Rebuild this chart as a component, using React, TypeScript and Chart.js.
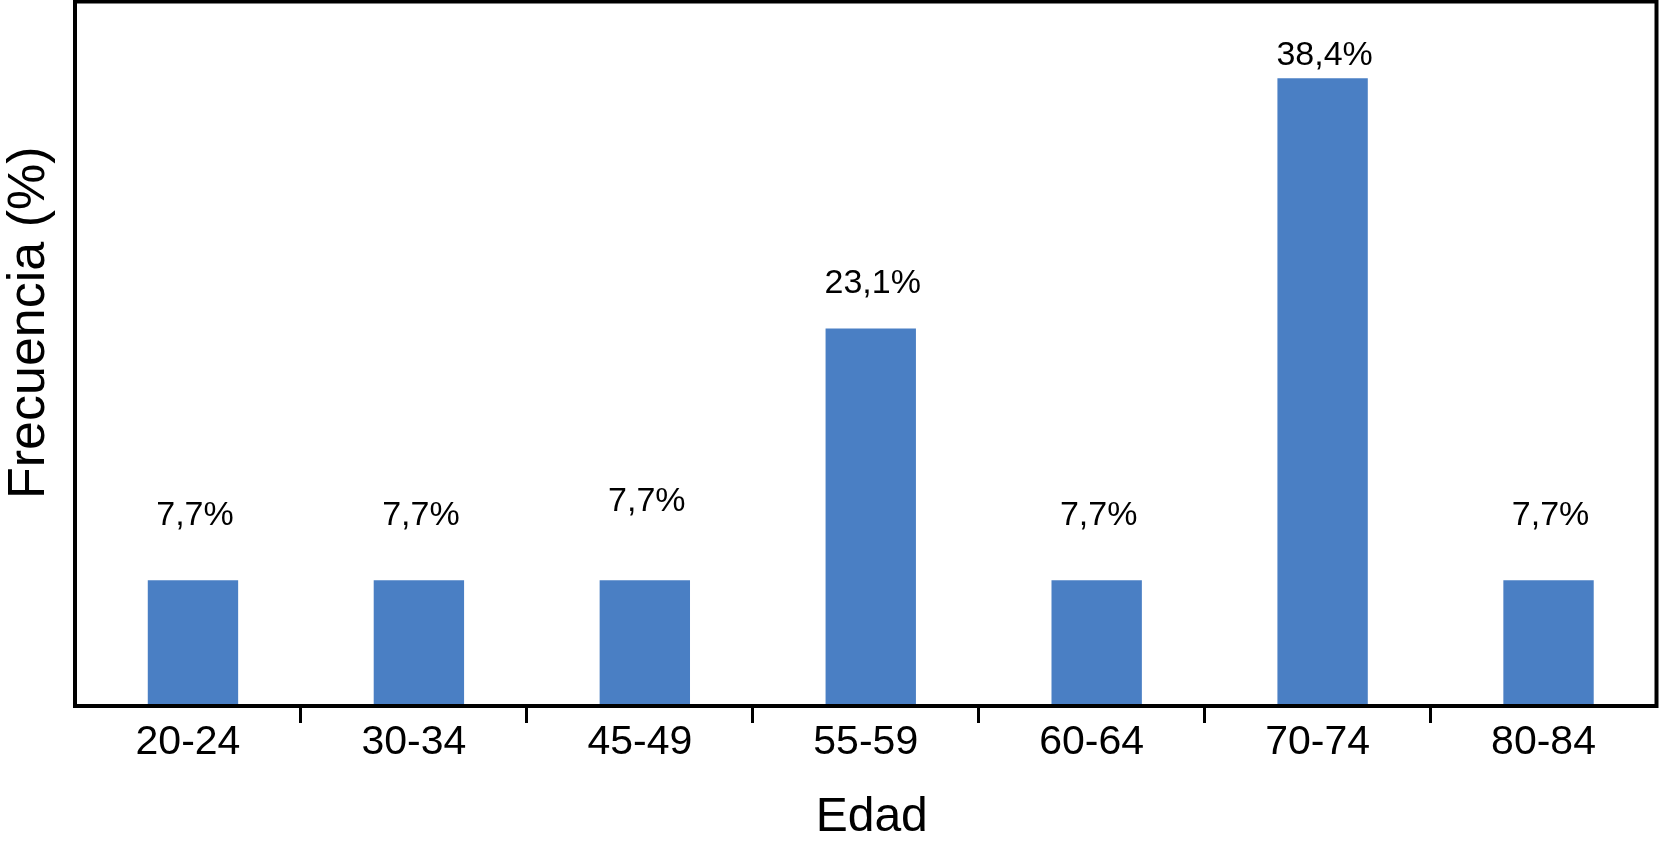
import React, { useEffect, useRef } from "react";
import { Chart, registerables } from "chart.js";

Chart.register(...registerables);

const categories = ["20-24", "30-34", "45-49", "55-59", "60-64", "70-74", "80-84"];
const frequencies = [7.7, 7.7, 7.7, 23.1, 7.7, 38.4, 7.7];
const xTitle = "Edad";
const yTitle = "Frecuencia (%)";

// vertical gap (px) between each bar top and its value label, as drawn in the original
const labelLift = [65, 65, 79, 45, 65, 23, 65];
// the original draws its bars a little right of the category centre
const BAR_SHIFT = 5;

const FONT = "'Liberation Sans', Arial, Helvetica, sans-serif";
const BAR_COLOR = "#4A7FC4";

const fmt = (v: number) => v.toFixed(1).replace(".", ",") + "%";

const framePlugin = {
  id: "frame",
  beforeDatasetsDraw(chart: any) {
    chart.ctx.save();
    chart.ctx.translate(BAR_SHIFT, 0);
  },
  afterDatasetsDraw(chart: any) {
    const { ctx, chartArea } = chart;
    ctx.restore();
    ctx.save();
    // value labels
    const meta = chart.getDatasetMeta(0);
    ctx.fillStyle = "#000";
    ctx.font = `34px ${FONT}`;
    ctx.textAlign = "center";
    ctx.textBaseline = "middle";
    meta.data.forEach((bar: any, i: number) => {
      ctx.fillText(fmt(frequencies[i]), bar.x + BAR_SHIFT + 2, bar.y - labelLift[i]);
    });
    // frame
    ctx.strokeStyle = "#000";
    ctx.lineWidth = 4;
    ctx.strokeRect(
      chartArea.left,
      chartArea.top,
      chartArea.right - chartArea.left,
      chartArea.bottom - chartArea.top
    );
    // axis titles
    const midX = (chartArea.left + chartArea.right) / 2 + 6;
    ctx.font = `48px ${FONT}`;
    ctx.fillText(xTitle, midX, chart.height - 26);
    ctx.translate(30, (chartArea.top + chartArea.bottom) / 2 - 31);
    ctx.rotate(-Math.PI / 2);
    ctx.font = `52px ${FONT}`;
    ctx.fillText(yTitle, 0, 0);
    ctx.restore();
  },
};

export default function App() {
  const ref = useRef<HTMLCanvasElement | null>(null);

  useEffect(() => {
    if (!ref.current) return;
    Chart.defaults.color = "#000";
    Chart.defaults.font.family = FONT;
    const chart = new Chart(ref.current, {
      type: "bar",
      data: {
        labels: categories,
        datasets: [
          {
            data: frequencies,
            backgroundColor: BAR_COLOR,
            borderWidth: 0,
            barPercentage: 0.4,
            categoryPercentage: 1,
          },
        ],
      },
      options: {
        animation: false,
        responsive: false,
        devicePixelRatio: 1,
        layout: { padding: { top: 1.5, right: 3.5, left: 0, bottom: 0 } },
        plugins: {
          legend: { display: false },
          tooltip: { enabled: false },
        },
        scales: {
          x: {
            type: "category",
            position: "bottom",
            offset: true,
            afterFit: (s: any) => {
              s.height = 138;
            },
            grid: {
              display: true,
              offset: true,
              drawOnChartArea: false,
              drawTicks: true,
              tickLength: 17,
              lineWidth: 3,
              color: (c: any) =>
                c.type !== "tick" || c.index === 0 ? "rgba(0,0,0,0)" : "#000",
            },
            border: { display: false },
            ticks: {
              color: "#000",
              font: { size: 41, family: FONT },
              padding: -5,
              maxRotation: 0,
              autoSkip: false,
            },
            title: { display: false, text: xTitle },
          },
          y: {
            min: 0,
            max: 43.1,
            afterFit: (s: any) => {
              s.width = 75;
            },
            grid: { display: false },
            border: { display: false },
            ticks: { display: false },
            title: { display: false, text: yTitle },
          },
        },
      },
      plugins: [framePlugin],
    });
    return () => chart.destroy();
  }, []);

  return (
    <div
      style={{
        position: "absolute",
        left: 0,
        top: 0,
        width: 1660,
        height: 844,
        background: "#fff",
      }}
    >
      <canvas ref={ref} width={1660} height={844} style={{ display: "block" }} />
    </div>
  );
}
